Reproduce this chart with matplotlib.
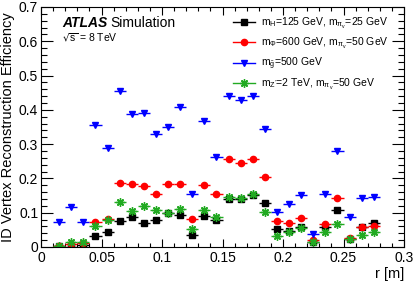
import numpy as np
import matplotlib
matplotlib.use("Agg")
from matplotlib import pyplot as plt
from matplotlib.ticker import MultipleLocator
from matplotlib.lines import Line2D

plt.rcParams['font.family'] = ['Liberation Sans', 'DejaVu Sans']
plt.rcParams['mathtext.default'] = 'regular'

# bin centres in r [m], bin width 0.01
r = [0.015, 0.025, 0.035, 0.045, 0.055, 0.065, 0.075, 0.085, 0.095, 0.105,
     0.115, 0.125, 0.135, 0.145, 0.155, 0.165, 0.175, 0.185, 0.195, 0.205,
     0.215, 0.225, 0.235, 0.245, 0.255, 0.265, 0.275]
r_err = 0.005

eff_higgs = [0.002, 0.001, 0.006, 0.032, 0.043, 0.076, 0.088, 0.069, 0.079, 0.098,
             0.092, 0.036, 0.090, 0.080, 0.140, 0.140, 0.152, 0.127, 0.052, 0.048,
             0.057, 0.016, 0.057, 0.108, 0.022, 0.059, 0.069]
eff_phi = [0.003, 0.008, 0.011, 0.074, 0.083, 0.188, 0.183, 0.178, 0.156, 0.183,
           0.184, 0.083, 0.180, 0.154, 0.258, 0.244, 0.258, 0.205, 0.075, 0.069,
           0.086, 0.020, 0.066, 0.144, 0.027, 0.059, 0.062]
eff_gluino = [0.074, 0.117, 0.072, 0.356, 0.288, 0.456, 0.388, 0.392, 0.331, 0.351,
              0.407, 0.154, 0.367, 0.263, 0.441, 0.428, 0.439, 0.344, 0.103, 0.125,
              0.152, 0.037, 0.154, 0.281, 0.088, 0.144, 0.145]
eff_zprime = [0.004, 0.016, 0.014, 0.061, 0.079, 0.132, 0.105, 0.119, 0.109, 0.099,
              0.111, 0.053, 0.108, 0.087, 0.145, 0.142, 0.154, 0.101, 0.032, 0.043,
              0.056, 0.014, 0.043, 0.066, 0.023, 0.035, 0.045]

labels = [r'm$_{H}$=125 GeV, m$_{\pi_{v}}$=25 GeV',
          r'm$_{\Phi}$=600 GeV, m$_{\pi_{v}}$=50 GeV',
          r'm$_{\tilde{g}}$=500 GeV',
          r"m$_{Z'}$=2 TeV, m$_{\pi_{v}}$=50 GeV"]

fig = plt.figure(figsize=(4.15, 2.81), dpi=100)
ax = fig.add_axes([41/415, 1-247/281, 363/415, 240/281])

styles = [(eff_higgs, 'black', 's', 4.5),
          (eff_phi, 'red', 'o', 4.5),
          (eff_gluino, 'blue', 'v', 5.0),
          (eff_zprime, '#22aa22', (8, 2, 0), 6.0)]
handles = []
for (y, c, m, ms), lab in zip(styles, labels):
    ax.errorbar(r, y, xerr=r_err, marker=m, linestyle='none', color=c, ms=ms,
                mew=1.0, elinewidth=1.0, capsize=0)
    handles.append(Line2D([], [], color=c, marker=m, ms=ms, mew=1.0, lw=1.0))

ax.set_xlim(0, 0.3)
ax.set_ylim(0, 0.7)
ax.set_xticks([0, 0.05, 0.1, 0.15, 0.2, 0.25, 0.3])
ax.set_xticklabels(['0', '0.05', '0.1', '0.15', '0.2', '0.25', '0.3'])
ax.set_yticks([0, 0.1, 0.2, 0.3, 0.4, 0.5, 0.6, 0.7])
ax.set_yticklabels(['0', '0.1', '0.2', '0.3', '0.4', '0.5', '0.6', '0.7'])
ax.xaxis.set_minor_locator(MultipleLocator(0.01))
ax.yaxis.set_minor_locator(MultipleLocator(0.02))
ax.tick_params(which='both', direction='in', top=True, right=True, labelsize=10)
ax.tick_params(axis='x', which='major', length=6, width=0.8, pad=3)
ax.tick_params(axis='x', which='minor', length=3, width=0.8)
ax.tick_params(axis='y', which='major', length=8.5, width=0.8, pad=2)
ax.tick_params(axis='y', which='minor', length=4.5, width=0.8)

ax.set_ylabel('ID Vertex Reconstruction Efficiency', fontsize=10.5, labelpad=3)
ax.set_xlabel('r [m]', fontsize=10.5, loc='right', labelpad=1)

ax.text(0.058, 0.915, 'ATLAS', transform=ax.transAxes, fontsize=10,
        fontweight='bold', fontstyle='italic')
ax.text(0.192, 0.915, 'Simulation', transform=ax.transAxes, fontsize=10)
ax.text(0.058, 0.858, r'$\sqrt{s}$ = 8 TeV', transform=ax.transAxes, fontsize=7.5)

ax.legend(handles, labels, loc='upper left', bbox_to_anchor=(0.529, 0.962),
          frameon=False, fontsize=7.5, handlelength=2.1, handletextpad=0.6,
          labelspacing=0.45, borderaxespad=0, borderpad=0)

fig.savefig('out.png', dpi=100)
